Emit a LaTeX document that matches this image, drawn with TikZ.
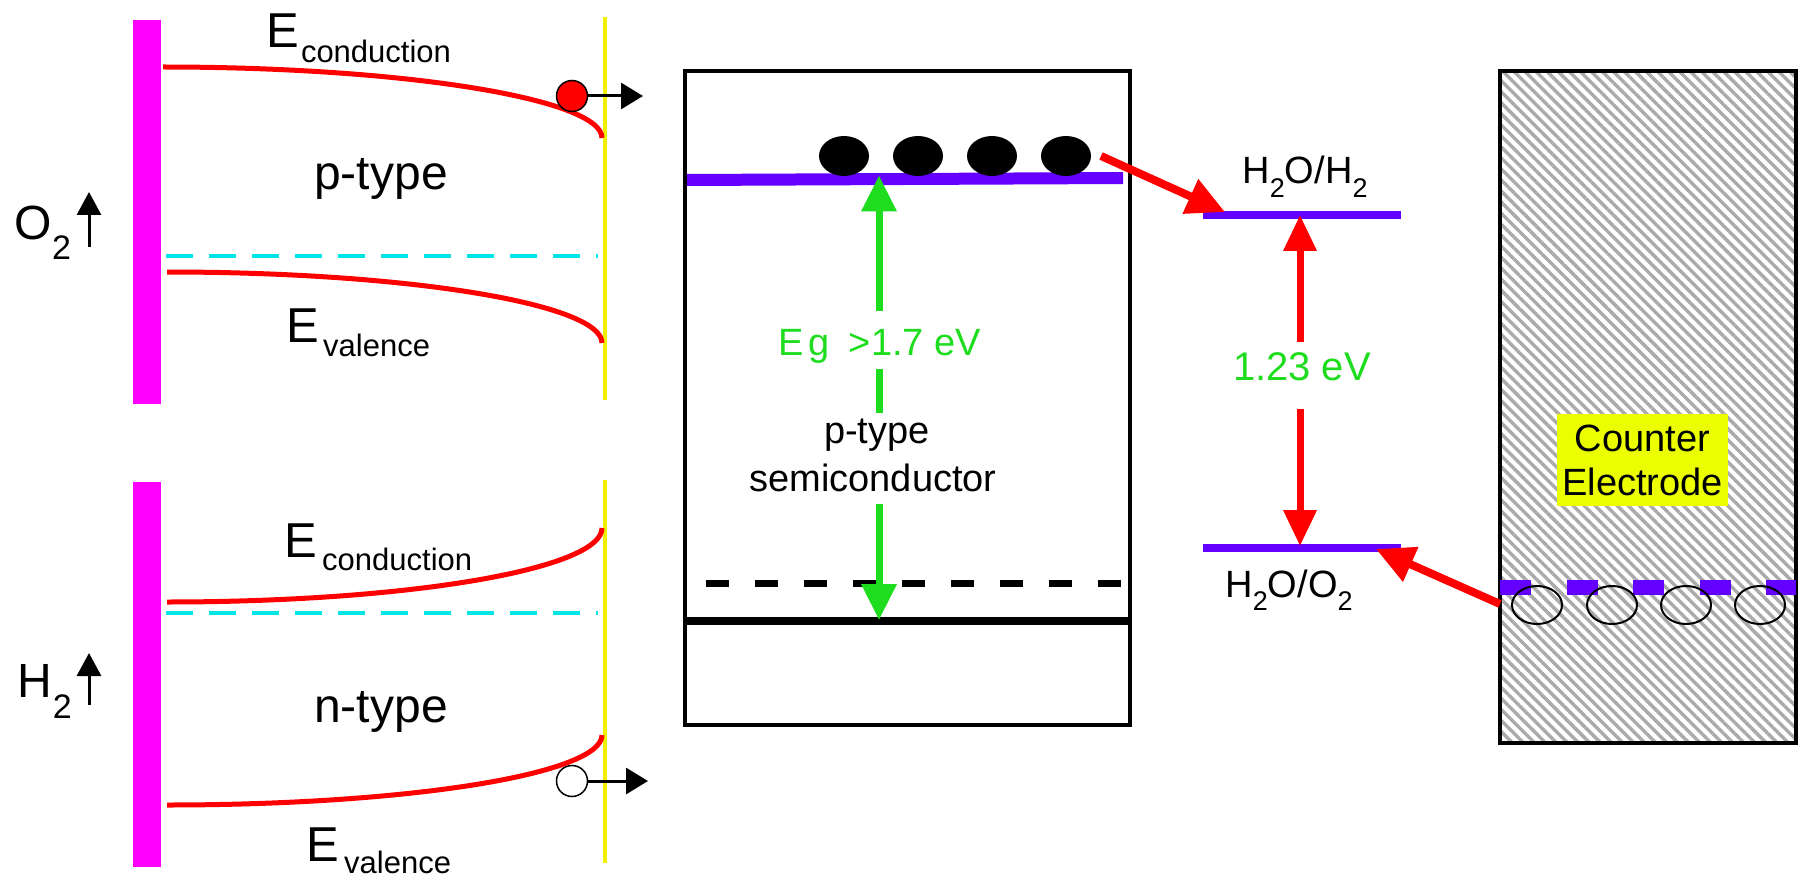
\documentclass[tikz,border=0pt]{standalone}
\usepackage{fontspec}
\setmainfont{Liberation Sans}
\usetikzlibrary{arrows.meta,patterns.meta}
\definecolor{mag}{RGB}{255,0,255}
\definecolor{ylw}{RGB}{240,240,0}
\definecolor{cyn}{RGB}{0,230,230}
\definecolor{prp}{RGB}{100,0,255}
\definecolor{grn}{RGB}{30,220,30}
\definecolor{rd}{RGB}{255,0,0}
\definecolor{lblyel}{RGB}{235,255,0}
\definecolor{hatchgray}{RGB}{170,170,170}
\tikzset{
  band/.style={draw=rd, line width=5pt},
  fermi/.style={draw=cyn, line width=3.5pt, dash pattern=on 27pt off 16pt},
  iface/.style={draw=ylw, line width=4pt},
  txt/.style={inner sep=0pt, anchor=base west},
  ctxt/.style={inner sep=0pt, anchor=base},
  fbig/.style={font=\fontsize{48}{56}\selectfont},
  fE/.style={font=\fontsize{49}{54}\selectfont},
  fsub/.style={font=\fontsize{31}{35}\selectfont},
  fsubtwo/.style={font=\fontsize{34}{38}\selectfont},
  fmid/.style={font=\fontsize{38}{44}\selectfont},
  carrier/.style={circle, draw=black, line width=1.5pt, minimum size=31pt, inner sep=0pt},
  thinarrow/.style={line width=3pt, -{Triangle[length=22pt,width=26pt]}},
  gasarrow/.style={line width=3pt, -{Triangle[length=23pt,width=24pt]}},
  grnarrow/.style={draw=grn, line width=7pt, -{Triangle[length=36pt,width=34pt]}},
  grnline/.style={draw=grn, line width=7pt},
  redgap/.style={draw=rd, line width=7pt, -{Triangle[length=36pt,width=32pt]}},
  redarrow/.style={draw=rd, line width=8pt, -{Triangle[length=38pt,width=36pt]}},
  level/.style={draw=prp, line width=8pt},
}
\newcommand{\sbt}[1]{\raisebox{-0.36em}{\fontsize{27}{30}\selectfont #1}}
\begin{document}
\begin{tikzpicture}[x=1pt,y=-1pt]
\useasboundingbox (0,0) rectangle (1798,885);
% ---------------- upper left: p-type ----------------
\fill[mag] (133,20) rectangle (161,404);
\draw[iface] (605,17) -- (605,400);
\draw[fermi] (166,256) -- (598,256);
\draw[band] (163,67) .. controls (405,67) and (602,99) .. (602,138);
\draw[band] (167,272) .. controls (408,272) and (602,304) .. (602,343);
\node[carrier, fill=rd] (el) at (572,96) {};
\coordinate (eltip) at (643,96);
\draw[thinarrow] (el.east) -- (eltip);
\node[txt, fE] (ecU) at (266.1,48) {E};
\node[txt, fsub] (ecUs) at (300.8,63) {conduction};
\node[ctxt, fbig] (ptypeL) at (381,190) {p-type};
\node[txt, fE] (evU) at (286.1,342) {E};
\node[txt, fsub] (evUs) at (323,356) {valence};
\node[txt, fbig] (oxO) at (14.4,240) {O};
\node[txt, fsubtwo] (oxTwo) at (52,260) {2};
\coordinate (oxA) at (89,247);
\coordinate (oxB) at (89,192);
\draw[gasarrow] (oxA) -- (oxB);
% ---------------- lower left: n-type ----------------
\fill[mag] (133,482) rectangle (161,867);
\draw[iface] (605,480) -- (605,863);
\draw[fermi] (166,613) -- (598,613);
\draw[band] (167,602) .. controls (409,602) and (602,569) .. (602,528);
\draw[band] (167,805) .. controls (409,805) and (602,774) .. (602,735);
\node[carrier, fill=white] (ho) at (572,781) {};
\coordinate (hotip) at (648,781);
\draw[thinarrow] (ho.east) -- (hotip);
\node[txt, fE] (ecL) at (284.1,557) {E};
\node[txt, fsub] (ecLs) at (322,570) {conduction};
\node[ctxt, fbig] (ntypeL) at (381,722) {n-type};
\node[txt, fE] (evL) at (306.1,861) {E};
\node[txt, fsub] (evLs) at (344,873) {valence};
\node[txt, fbig] (hyH) at (17.6,697) {H};
\node[txt, fsubtwo] (hyTwo) at (52.6,718) {2};
\coordinate (hyA) at (89,705);
\coordinate (hyB) at (89,653);
\draw[gasarrow] (hyA) -- (hyB);
% ---------------- middle: semiconductor ----------------
\draw[line width=3.5pt] (685,71) rectangle (1130,725);
\draw[prp, line width=12pt] (687,180) -- (1123,178);
\foreach \xc in {844,918,992,1066}
  \fill (\xc,156) ellipse [x radius=25, y radius=20];
\draw[line width=7pt, dash pattern=on 23pt off 26pt] (706,583) -- (1123,583);
\draw[line width=8pt] (685,621) -- (1130,621);
\coordinate (gT) at (879,175.5);
\coordinate (gB) at (879,620);
\coordinate (g1) at (879,311);
\coordinate (g2) at (879,369);
\coordinate (g3) at (879,413);
\coordinate (g4) at (879,504);
\draw[grnarrow] (g1) -- (gT);
\draw[grnline] (g2) -- (g3);
\draw[grnarrow] (g4) -- (gB);
\node[ctxt, fmid, text=grn] (eg) at (880,355) {E\hspace{0.12em}g\hspace{0.5em}>1.7 eV};
\node[ctxt, fmid] (pt1) at (877,443) {p-type};
\node[ctxt, fmid] (pt2) at (873,491) {semiconductor};
% ---------------- redox levels ----------------
\draw[level] (1203,215.5) -- (1401,215.5);
\draw[level] (1203,547.5) -- (1401,547.5);
\node[ctxt, fmid] (hh) at (1305,184) {H\sbt{2}O/H\sbt{2}};
\node[ctxt, fmid] (ho2) at (1289,597) {H\sbt{2}O/O\sbt{2}};
\coordinate (rT) at (1300,215);
\coordinate (rB) at (1300,546);
\coordinate (r1) at (1300,342);
\coordinate (r2) at (1300,409);
\draw[redgap] (r1) -- (rT);
\draw[redgap] (r2) -- (rB);
\node[ctxt, fmid, font=\fontsize{40}{44}\selectfont, text=grn] (v123) at (1302,380) {1.23 eV};
\coordinate (a1s) at (1101,156);
\coordinate (a1e) at (1225,212);
\draw[redarrow] (a1s) -- (a1e);
% ---------------- counter electrode ----------------
\draw[line width=3.5pt, pattern={Lines[angle=-45,distance=7.8pt,line width=3.4pt]}, pattern color=hatchgray] (1500,71) rectangle (1796,743);
\draw[prp, line width=15pt, dash pattern=on 31pt off 35.5pt] (1500,587) -- (1796,587);
\foreach \xc in {1537,1612,1686,1760}
  \draw[line width=2pt] (\xc,605) ellipse [x radius=25, y radius=19];
\node[fill=lblyel, minimum width=171pt, minimum height=92pt, inner sep=0pt, align=center, font=\fontsize{38}{44}\selectfont] (ce) at (1642.5,460) {Counter\\Electrode};
\coordinate (a2s) at (1500,604);
\coordinate (a2e) at (1376,549);
\draw[redarrow] (a2s) -- (a2e);
\end{tikzpicture}
\end{document}
